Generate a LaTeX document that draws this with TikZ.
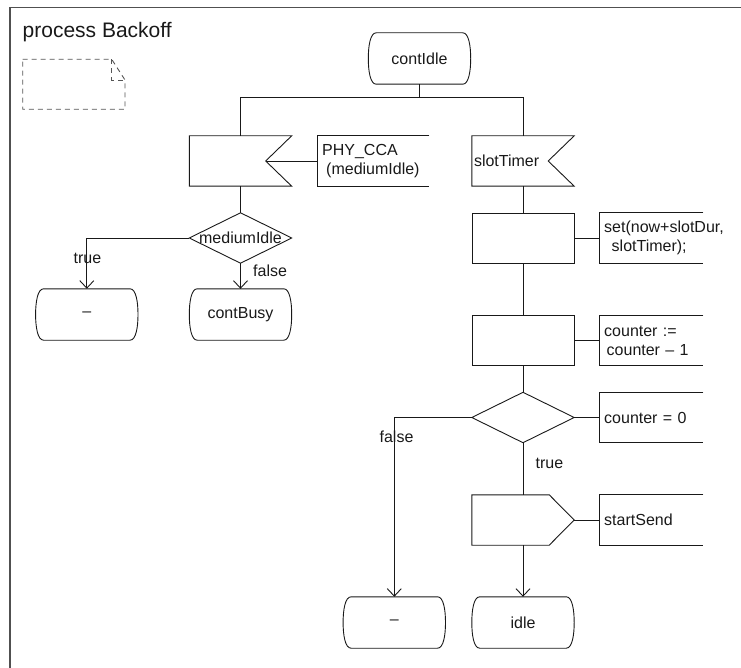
\documentclass[tikz,border=0pt]{standalone}
\usepackage{fontspec}
\setmainfont{Liberation Sans}
\usetikzlibrary{arrows.meta,calc}

\definecolor{linecol}{RGB}{25,25,25}
\definecolor{framecol}{RGB}{80,80,80}
\definecolor{notecol}{RGB}{85,85,85}

\tikzset{
  sdl/.style={draw=none, inner sep=0pt, text=linecol, font=\fontsize{16}{19}\selectfont},
  statebox/.style={sdl, minimum width=102pt, minimum height=51pt},
  boxsym/.style={sdl, minimum width=102pt, minimum height=50pt},
  taskbox/.style={sdl, draw=linecol, line width=0.9pt, minimum width=102pt, minimum height=50pt},
  notebox/.style={sdl, anchor=west, text width=94pt, inner xsep=5pt, align=left, minimum height=50pt},
  lbl/.style={sdl},
  titletext/.style={sdl, font=\fontsize{21}{25}\selectfont},
  symline/.style={draw=linecol, line width=0.9pt},
  flow/.style={draw=linecol, line width=0.9pt},
  flowarrow/.style={flow, -{Straight Barb[length=7.5pt,width=14pt]}},
  frameline/.style={draw=framecol, line width=1.8pt},
  noteline/.style={draw=notecol, line width=0.9pt, dash pattern=on 5pt off 4pt}
}

% SDL symbol outlines drawn around plain rectangular nodes
\newcommand\stateshape[1]{%
  \draw[symline] ($(#1.north west)+(8,0)$) -- ($(#1.north east)+(-8,0)$)
    .. controls ($(#1.north east)+(-2,0)$) and ($(#1.north east)+(0,13)$) .. (#1.east)
    .. controls ($(#1.south east)+(0,-13)$) and ($(#1.south east)+(-2,0)$) .. ($(#1.south east)+(-8,0)$)
    -- ($(#1.south west)+(8,0)$)
    .. controls ($(#1.south west)+(2,0)$) and ($(#1.south west)+(0,-13)$) .. (#1.west)
    .. controls ($(#1.north west)+(0,13)$) and ($(#1.north west)+(2,0)$) .. cycle;}
\newcommand\inputshape[1]{%
  \draw[symline] (#1.north west) -- (#1.north east) -- ($(#1.east)+(-26,0)$)
    -- (#1.south east) -- (#1.south west) -- cycle;}
\newcommand\outputshape[1]{%
  \draw[symline] (#1.north west) -- ($(#1.north east)+(-25,0)$) -- (#1.east)
    -- ($(#1.south east)+(-25,0)$) -- (#1.south west) -- cycle;}
\newcommand\decisionshape[1]{%
  \draw[symline] (#1.north) -- (#1.east) -- (#1.south) -- (#1.west) -- cycle;}
\newcommand\commentshape[1]{%
  \draw[symline] (#1.north east) -- (#1.north west) -- (#1.south west) -- (#1.south east);}

\begin{document}
\begin{tikzpicture}[x=1pt,y=-1pt]
\useasboundingbox (0,0) rectangle (741,668);

% diagram frame and heading
\draw[frameline] (10,668) -- (10,7.5) -- (741,7.5);
\node[titletext, anchor=base west] (title) at (22.5,37.5) {process Backoff};

% dashed text symbol
\draw[noteline] (22.7,59.3) -- (111.7,59.3) -- (125,80) -- (125,109.3) -- (22.7,109.3) -- cycle;
\draw[noteline] (111.7,59.3) -- (111.7,80) -- (125,80);

% symbols
\node[statebox] (start) at (419.5,58.5) {contIdle};

\node[boxsym] (in1) at (240.5,161) {};
\node[notebox, text width=102pt] (c1) at (317,161) {PHY\_CCA\\\hspace*{4pt}(mediumIdle)};
\node[boxsym] (d1) at (240.5,238) {mediumIdle};
\node[statebox] (st1) at (86.8,314.5) {–};
\node[statebox] (st2) at (240.5,314.5) {contBusy};

\node[boxsym, text width=98pt, inner xsep=2pt, align=left] (in2) at (523,161) {slotTimer};
\node[taskbox] (t1) at (523,238) {};
\node[notebox] (c2) at (599,238) {\mbox{set(now+slotDur,}\\\hspace*{7.5pt}slotTimer);};
\node[taskbox] (t2) at (523,340.5) {};
\node[notebox] (c3) at (599,340.5) {counter :=\\\hspace*{2.5pt}counter – 1};
\node[boxsym] (d2) at (523,417.5) {};
\node[notebox] (c4) at (599,417.5) {counter = 0};
\node[boxsym] (o1) at (523,520) {};
\node[notebox] (c5) at (599,520) {startSend};
\node[statebox] (st3) at (394.3,622.5) {–};
\node[statebox] (st4) at (523,622.5) {idle};

\stateshape{start}
\stateshape{st1}
\stateshape{st2}
\stateshape{st3}
\stateshape{st4}
\inputshape{in1}
\inputshape{in2}
\outputshape{o1}
\decisionshape{d1}
\decisionshape{d2}
\commentshape{c1}
\commentshape{c2}
\commentshape{c3}
\commentshape{c4}
\commentshape{c5}

% connectors
\coordinate (fork) at ($(start.south)+(0,13)$);
\coordinate (in1tip) at ($(in1.east)+(-26,0)$);
\draw[flow] (start.south) -- (fork);
\draw[flow] (in1.north) |- (fork) -| (in2.north);
\draw[flow] (in1tip) -- (c1.west);
\draw[flow] (in1.south) -- (d1.north);
\draw[flowarrow] (d1.west) -| (st1.north);
\draw[flowarrow] (d1.south) -- (st2.north);
\draw[flow] (in2.south) -- (t1.north);
\draw[flow] (t1.east) -- (c2.west);
\draw[flow] (t1.south) -- (t2.north);
\draw[flow] (t2.east) -- (c3.west);
\draw[flow] (t2.south) -- (d2.north);
\draw[flow] (d2.east) -- (c4.west);
\draw[flowarrow] (d2.west) -| (st3.north);
\draw[flow] (d2.south) -- (o1.north);
\draw[flow] (o1.east) -- (c5.west);
\draw[flowarrow] (o1.south) -- (st4.north);

% branch labels
\node[lbl] (lt1) at (87.5,258) {true};
\node[lbl, anchor=west] (lf1) at (253,271) {false};
\node[lbl] (lf2) at (396.5,437) {false};
\node[lbl] (lt2) at (549.5,463) {true};
\end{tikzpicture}
\end{document}
